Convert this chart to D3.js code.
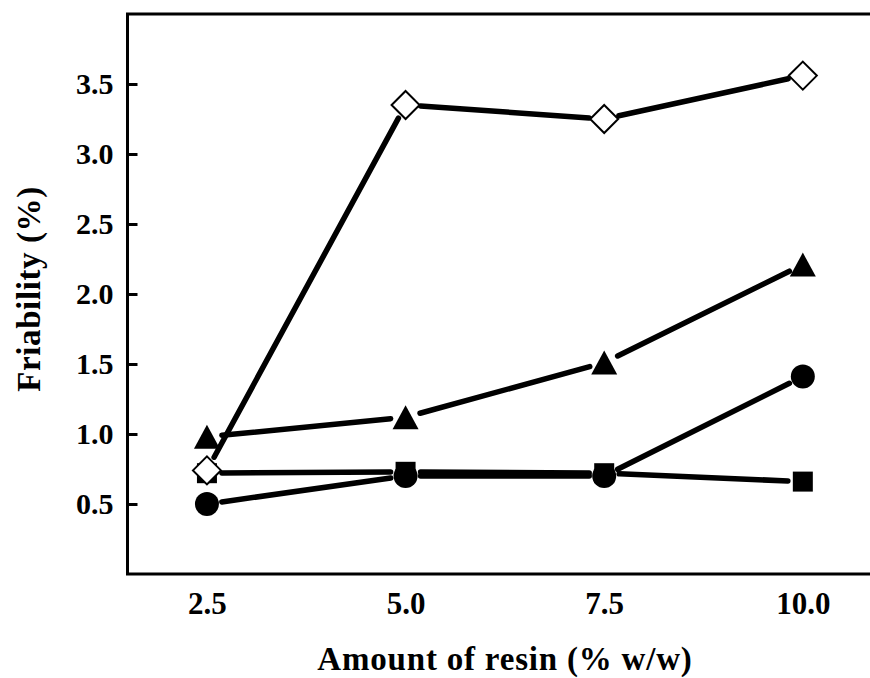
<!DOCTYPE html>
<html>
<head>
<meta charset="utf-8">
<script src="https://cdn.jsdelivr.net/npm/d3@7"></script>
<style>
  html, body { margin: 0; padding: 0; background: #fff; }
  svg { display: block; }
  text { font-family: "Liberation Serif", "Times New Roman", serif; font-weight: bold; fill: #000; }
</style>
</head>
<body>
<svg id="chart" width="870" height="678"></svg>
<script>
// Resin amount (% w/w) on the x axis
const resinAmounts = [2.5, 5.0, 7.5, 10.0];
const xTickLabels = ["2.5", "5.0", "7.5", "10.0"];

// Friability (%) for each formulation series
const friabilityDiamond = [0.74, 3.35, 3.25, 3.56];
const friabilityTriangle = [0.98, 1.12, 1.51, 2.21];
const friabilitySquare = [0.72, 0.73, 0.72, 0.66];
const friabilityCircle = [0.50, 0.70, 0.70, 1.41];

const yTickValues = [0.5, 1.0, 1.5, 2.0, 2.5, 3.0, 3.5];
const yTickLabels = ["0.5", "1.0", "1.5", "2.0", "2.5", "3.0", "3.5"];

const svg = d3.select("#chart");

const x = d3.scaleLinear().domain([1.5, 11.5]).range([127.5, 922]);
const y = d3.scaleLinear().domain([0, 4]).range([574, 14]);

// plot frame
svg.append("rect")
  .attr("x", x(1.5)).attr("y", y(4))
  .attr("width", x(11.5) - x(1.5)).attr("height", y(0) - y(4))
  .attr("fill", "none").attr("stroke", "#000").attr("stroke-width", 3);

// y axis: inward ticks, labels on the left
const yAxis = d3.axisLeft(y)
  .tickValues(yTickValues)
  .tickSize(-10)
  .tickPadding(14)
  .tickFormat((d, i) => yTickLabels[i]);
const gy = svg.append("g").attr("transform", `translate(${x(1.5)},0)`).call(yAxis);
gy.select(".domain").remove();
gy.selectAll(".tick line").attr("stroke", "#000").attr("stroke-width", 3);
gy.selectAll(".tick text").attr("font-size", 30).attr("font-family", null);

// x axis: labels only
const xAxis = d3.axisBottom(x)
  .tickValues(resinAmounts)
  .tickSize(0)
  .tickPadding(18)
  .tickFormat((d, i) => xTickLabels[i]);
const gx = svg.append("g").attr("transform", `translate(0,${y(0)})`).call(xAxis);
gx.select(".domain").remove();
gx.selectAll(".tick text").attr("font-size", 31).attr("font-family", null);

// axis titles
svg.append("text")
  .attr("x", 505).attr("y", 670)
  .attr("text-anchor", "middle")
  .attr("font-size", 33)
  .attr("letter-spacing", 0.8)
  .text("Amount of resin (% w/w)");

svg.append("text")
  .attr("transform", "translate(40,289) rotate(-90)")
  .attr("text-anchor", "middle")
  .attr("font-size", 33)
  .attr("letter-spacing", 0.6)
  .text("Friability (%)");

const series = [
  { values: friabilitySquare, shape: "square" },
  { values: friabilityCircle, shape: "circle" },
  { values: friabilityTriangle, shape: "triangle" },
  { values: friabilityDiamond, shape: "diamond" }
];

const gap = 15;

// connecting segments, trimmed short of each marker
series.forEach(s => {
  const pts = resinAmounts.map((r, i) => [x(r), y(s.values[i])]);
  const segs = d3.pairs(pts).map(([a, b]) => {
    const dx = b[0] - a[0], dy = b[1] - a[1];
    const len = Math.hypot(dx, dy);
    const ux = dx / len, uy = dy / len;
    return [[a[0] + ux * gap, a[1] + uy * gap], [b[0] - ux * gap, b[1] - uy * gap]];
  });
  svg.append("g").selectAll("line").data(segs).join("line")
    .attr("x1", d => d[0][0]).attr("y1", d => d[0][1])
    .attr("x2", d => d[1][0]).attr("y2", d => d[1][1])
    .attr("stroke", "#000").attr("stroke-width", 5.5)
    .attr("stroke-linecap", "round");
});

// markers
function markerPath(shape, cx, cy) {
  if (shape === "square") {
    const h = 10;
    return `M${cx - h},${cy - h}H${cx + h}V${cy + h}H${cx - h}Z`;
  }
  if (shape === "triangle") {
    const w = 13, h = 12;
    return `M${cx},${cy - h}L${cx + w},${cy + h}L${cx - w},${cy + h}Z`;
  }
  if (shape === "diamond") {
    const h = 14;
    return `M${cx},${cy - h}L${cx + h},${cy}L${cx},${cy + h}L${cx - h},${cy}Z`;
  }
  return null;
}

series.forEach(s => {
  const g = svg.append("g");
  const data = resinAmounts.map((r, i) => ({ cx: x(r), cy: y(s.values[i]) }));
  if (s.shape === "circle") {
    g.selectAll("circle").data(data).join("circle")
      .attr("cx", d => d.cx).attr("cy", d => d.cy).attr("r", 12)
      .attr("fill", "#000");
  } else {
    g.selectAll("path").data(data).join("path")
      .attr("d", d => markerPath(s.shape, d.cx, d.cy))
      .attr("fill", s.shape === "diamond" ? "#fff" : "#000")
      .attr("stroke", "#000")
      .attr("stroke-width", s.shape === "diamond" ? 2 : 0);
  }
});
</script>
</body>
</html>
